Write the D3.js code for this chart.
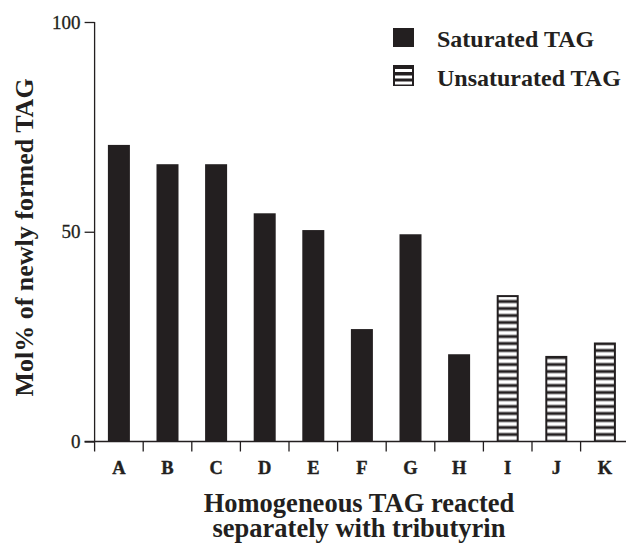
<!DOCTYPE html>
<html>
<head>
<meta charset="utf-8">
<script src="https://cdn.jsdelivr.net/npm/d3@7"></script>
<style>
  html, body { margin: 0; padding: 0; background: #fff; }
  svg text { font-family: "Liberation Serif", "Times New Roman", serif; fill: #231f20; }
</style>
</head>
<body>
<svg id="chart" width="626" height="544"></svg>
<script>
'use strict';

// Mol% of newly formed TAG
const categories = ['A', 'B', 'C', 'D', 'E', 'F', 'G', 'H', 'I', 'J', 'K'];
const values     = [70.7, 66.1, 66.1, 54.4, 50.4, 26.8, 49.4, 20.8, 34.9, 20.4, 23.6];
const kinds      = ['sat', 'sat', 'sat', 'sat', 'sat', 'sat', 'sat', 'sat', 'unsat', 'unsat', 'unsat'];
const yTicks     = [0, 50, 100];
const legendItems = [
  { key: 'sat',   label: 'Saturated TAG' },
  { key: 'unsat', label: 'Unsaturated TAG' },
];

const INK = '#231f20';

const svg = d3.select('#chart');
const data = categories.map((c, i) => ({ cat: c, value: values[i], kind: kinds[i] }));

const axisX0 = 94.6;
const step   = 48.6;
const x = d3.scaleBand().domain(categories)
  .range([axisX0, axisX0 + step * categories.length])
  .paddingInner(0).paddingOuter(0);
const y = d3.scaleLinear().domain([0, 100]).range([441.5, 22]);
const barW = 22;

// stripe pattern for the unsaturated bars (white bands over black)
const defs = svg.append('defs');
const pat = defs.append('pattern').attr('id', 'stripes')
  .attr('patternUnits', 'userSpaceOnUse')
  .attr('width', 10).attr('height', 7)
  .attr('patternTransform', `translate(0, ${y(0)})`);
pat.append('rect').attr('x', 0).attr('y', 0).attr('width', 10).attr('height', 7).attr('fill', INK);
pat.append('rect').attr('x', 0).attr('y', 1.5).attr('width', 10).attr('height', 4).attr('fill', '#fff');

/* ── bars ─────────────────────────────────────────── */
const bars = svg.append('g');
const cx = d => x(d.cat) + x.bandwidth() / 2;

bars.selectAll('rect.bar').data(data).enter().append('rect')
  .attr('class', 'bar')
  .attr('x', d => cx(d) - barW / 2)
  .attr('y', d => y(d.value))
  .attr('width', barW)
  .attr('height', d => y(0) - y(d.value))
  .attr('fill', INK);

// white stripes inset inside the black outline
bars.selectAll('rect.inner').data(data.filter(d => d.kind === 'unsat')).enter().append('rect')
  .attr('class', 'inner')
  .attr('x', d => cx(d) - barW / 2 + 2)
  .attr('y', d => y(d.value) + 2)
  .attr('width', barW - 4)
  .attr('height', d => y(0) - y(d.value) - 2)
  .attr('fill', 'url(#stripes)');

/* ── y axis ───────────────────────────────────────── */
const yAxis = svg.append('g')
  .attr('transform', `translate(${axisX0},0)`)
  .call(d3.axisLeft(y).tickValues(yTicks).tickFormat('')
    .tickSize(10).tickSizeOuter(0));
yAxis.select('.domain').remove();
yAxis.selectAll('line').attr('stroke', INK).attr('stroke-width', 1.3);

// tick numbers drawn as plain text so the serif face sticks
svg.append('g').selectAll('text').data(yTicks).enter().append('text')
  .attr('x', axisX0 - 14)
  .attr('y', d => y(d) + 6.5)
  .attr('text-anchor', 'end')
  .style('font-size', '19px')
  .attr('stroke', INK).attr('stroke-width', 0.3)
  .text(d => d);

// vertical axis line, running down past the baseline like a tick
svg.append('line')
  .attr('x1', axisX0).attr('x2', axisX0)
  .attr('y1', y(100)).attr('y2', y(0) + 10)
  .attr('stroke', INK).attr('stroke-width', 1.3);

/* ── x axis ───────────────────────────────────────── */
svg.append('line')
  .attr('x1', axisX0 - 10).attr('x2', 626)
  .attr('y1', y(0)).attr('y2', y(0))
  .attr('stroke', INK).attr('stroke-width', 1.3);

// boundary ticks between categories
svg.append('g').selectAll('line').data(categories.slice(1)).enter().append('line')
  .attr('x1', d => x(d)).attr('x2', d => x(d))
  .attr('y1', y(0)).attr('y2', y(0) + 10)
  .attr('stroke', INK).attr('stroke-width', 1.3);

svg.append('g').selectAll('text').data(categories).enter().append('text')
  .attr('x', d => x(d) + x.bandwidth() / 2)
  .attr('y', y(0) + 32)
  .attr('text-anchor', 'middle')
  .style('font-size', '18.5px').style('font-weight', 'bold')
  .attr('stroke', INK).attr('stroke-width', 0.4)
  .text(d => d);

/* ── titles ───────────────────────────────────────── */
svg.append('text')
  .attr('transform', `translate(33,237.5) rotate(-90)`)
  .attr('text-anchor', 'middle')
  .style('font-size', '26px').style('font-weight', 'bold')
  .text('Mol% of newly formed TAG');

const xTitle = svg.append('text')
  .attr('text-anchor', 'middle')
  .style('font-size', '26.5px').style('font-weight', 'bold');
xTitle.append('tspan').attr('x', 359).attr('y', 511.5).text('Homogeneous TAG reacted');
xTitle.append('tspan').attr('x', 359).attr('y', 536.5).text('separately with tributyrin');

/* ── legend ───────────────────────────────────────── */
const legend = svg.append('g').attr('transform', 'translate(393,28)');
const item = legend.selectAll('g').data(legendItems).enter().append('g')
  .attr('transform', (d, i) => `translate(0,${i * 37})`);

item.append('rect')
  .attr('width', 21).attr('height', (d, i) => i ? 21 : 19)
  .attr('fill', INK);
item.filter(d => d.key === 'unsat').selectAll('rect.w')
  .data([4, 10.5, 16.5]).enter().append('rect')
  .attr('class', 'w')
  .attr('x', 2).attr('y', d => d)
  .attr('width', 17).attr('height', 3)
  .attr('fill', '#fff');

item.append('text')
  .attr('x', 44).attr('y', (d, i) => i ? 20.5 : 18.5)
  .style('font-size', '24px').style('font-weight', 'bold')
  .text(d => d.label);
</script>
</body>
</html>
